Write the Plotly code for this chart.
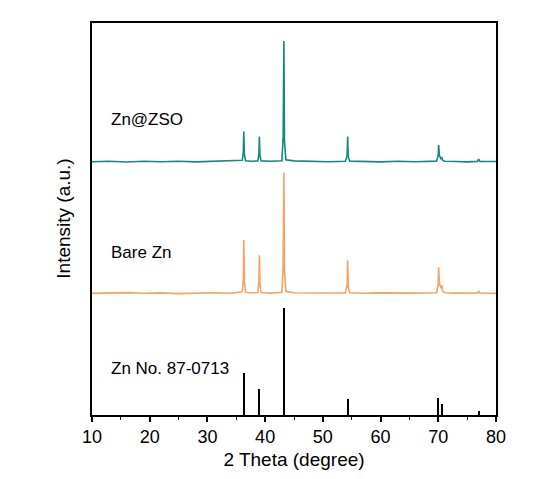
import plotly.graph_objects as go

# ---- data ----
# Zn@ZSO pattern: 2theta and intensity above its own baseline (a.u.)
zso_2theta = [10, 13, 16, 19, 22, 25, 28, 31, 34, 35.5,
              36.05, 36.22, 36.3, 36.4, 36.6, 37.5,
              38.75, 38.92, 39.0, 39.1, 39.3, 41,
              42.9, 43.12, 43.25, 43.35, 43.6, 45, 48, 51,
              53.9, 54.2, 54.3, 54.4, 54.65, 57, 60, 63, 66,
              69.7, 69.98, 70.06, 70.2, 70.45, 70.62, 70.75, 71.1, 73, 75,
              76.8, 77.0, 77.2, 79, 80]
zso_int = [0, 0.5, -0.3, 0.4, 0, 0.5, -0.2, 0.3, 0.5, 0.8,
           1.5, 10, 30, 8, 1, 0.5,
           0.8, 8, 25, 6, 0.8, 0.4,
           1, 25, 120, 20, 2, 0.8, 0.3, 0,
           0.5, 6, 25, 5, 0.6, 0.3, -0.2, 0.4, 0,
           0.6, 6, 16.5, 6, 3, 4, 1.5, 0.5, 0.2, -0.2,
           0.3, 2.5, 0.3, 0, 0.2]

# Bare Zn pattern
bare_2theta = [10, 13, 16, 19, 22, 25, 28, 31, 34, 35.5,
               36.05, 36.22, 36.3, 36.4, 36.6, 37.5,
               38.75, 38.92, 39.0, 39.1, 39.3, 41,
               42.9, 43.12, 43.25, 43.35, 43.6, 45, 48, 51,
               53.9, 54.2, 54.3, 54.4, 54.65, 57, 60, 63, 66,
               69.7, 69.98, 70.06, 70.2, 70.45, 70.62, 70.75, 71.1, 73, 75,
               76.8, 77.0, 77.2, 79, 80]
bare_int = [0, 0.4, 0.8, 0.2, 0.5, -0.2, 0.3, 0.6, 0.2, 0.8,
            1.5, 15, 53, 12, 1.2, 0.4,
            0.8, 12, 38, 9, 0.8, 0.3,
            1, 28, 120, 22, 2, 0.6, 0.2, 0.4,
            0.5, 8, 33, 6, 0.6, 0.2, 0.5, 0.1, 0.3,
            0.6, 9, 26, 10, 5, 8, 2.5, 0.6, 0.3, 0.5,
            0.4, 2, 0.4, 0.2, 0]

# Reference card Zn No. 87-0713
ref_2theta = [36.30, 38.99, 43.23, 54.34, 70.07, 70.66, 77.04]
ref_int = [42, 26, 106, 16, 17, 11, 4]

labels = ["Zn@ZSO", "Bare Zn", "Zn No. 87-0713"]

# vertical offsets for stacking
zso_offset = 252
bare_offset = 121

teal = "#148883"
orange = "#F6A263"
font_family = "Liberation Sans, Arial, sans-serif"

fig = go.Figure()
fig.add_trace(go.Bar(x=ref_2theta, y=ref_int, width=0.26,
                     marker=dict(color="black", line=dict(width=0)),
                     showlegend=False))
fig.add_trace(go.Scatter(x=bare_2theta, y=[v + bare_offset for v in bare_int],
                         mode="lines", line=dict(color=orange, width=1.6),
                         showlegend=False))
fig.add_trace(go.Scatter(x=zso_2theta, y=[v + zso_offset for v in zso_int],
                         mode="lines", line=dict(color=teal, width=1.6),
                         showlegend=False))

label_y = [294, 162, 46]
for t, yy in zip(labels, label_y):
    fig.add_annotation(x=12.9, y=yy, xref="x", yref="y", text=t, showarrow=False,
                       xanchor="left", yanchor="middle",
                       font=dict(size=17, color="black", family=font_family))

fig.add_annotation(x=-0.0725, y=0.5, xref="paper", yref="paper",
                   text="Intensity (a.u.)", textangle=-90, showarrow=False,
                   xanchor="center", yanchor="middle",
                   font=dict(size=19, color="black", family=font_family))

fig.update_xaxes(range=[10, 80], tick0=10, dtick=10, ticks="outside", ticklen=5,
                 tickwidth=1.5, tickcolor="black", showline=True, linecolor="black",
                 linewidth=1.5, mirror=True, showgrid=False, zeroline=False,
                 tickfont=dict(size=18, color="black", family=font_family),
                 minor=dict(ticks="outside", ticklen=3, dtick=5, tickcolor="black",
                            tickwidth=1.2, showgrid=False),
                 title=dict(text="2 Theta (degree)", standoff=6,
                            font=dict(size=19, color="black", family=font_family)))
fig.update_yaxes(range=[0, 390], showticklabels=False, ticks="", showline=True,
                 linecolor="black", linewidth=1.5, mirror=True, showgrid=False,
                 zeroline=False)

# page body has an 8px margin, so the figure is sized/margined to compensate
fig.update_layout(width=537, height=471, margin=dict(l=84, r=49, t=15, b=58),
                  plot_bgcolor="white", paper_bgcolor="white", bargap=0,
                  font=dict(family=font_family, color="black"))

fig.write_html("out.html")
